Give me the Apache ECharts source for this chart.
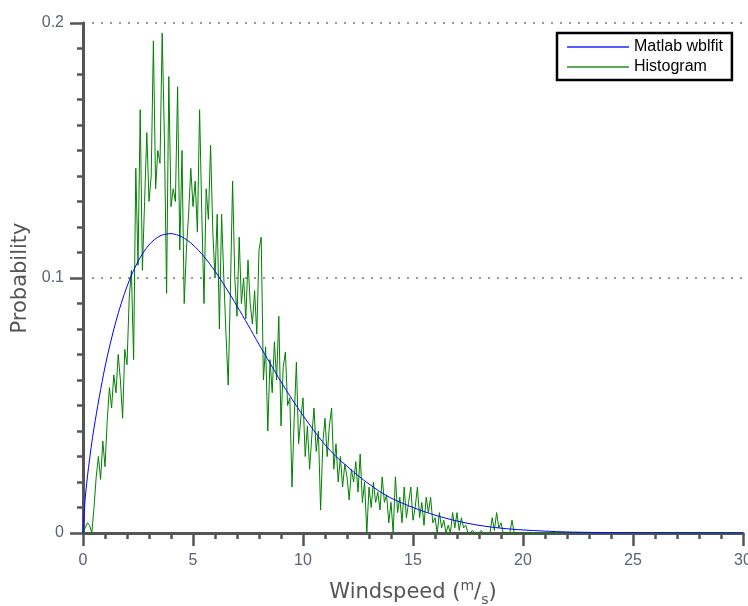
<!DOCTYPE html>
<html>
<head>
<meta charset="utf-8">
<script src="https://cdn.jsdelivr.net/npm/echarts@6/dist/echarts.min.js"></script>
<style>html,body{margin:0;padding:0;background:#fff;overflow:hidden;}#c{width:748px;height:606px;}</style>
</head>
<body>
<div id="c"></div>
<script>
// Weibull fit curve
var fitX = [0,0.1,0.25,0.5,1,1.5,2,2.5,3,3.5,4,4.5,5,5.5,6,6.5,7,7.5,8,8.5,9,9.5,10,10.5,11,11.5,12,12.5,13,13.5,14,15,16,17,18,19,20,22,25,30];
var fitY = [0,0.0135,0.0256,0.0412,0.0651,0.0831,0.0967,0.1065,0.1130,0.1165,0.1174,0.1161,0.1130,0.1084,0.1027,0.0961,0.0890,0.0816,0.0740,0.0666,0.0593,0.0525,0.0461,0.0401,0.0346,0.0300,0.0262,0.0225,0.0192,0.0162,0.0137,0.0100,0.0070,0.0047,0.0030,0.0019,0.0012,0.0004,0.0001,0];

// Histogram, bins of 0.1 m/s from 0 to 20, then zero up to 30
var histStep = 0.1;
var histEnd = 30;
var histY = [
0,0.002,0.004,0.003,0,0.010,0.022,0.030,0.021,0.036,
0.026,0.044,0.057,0.049,0.062,0.055,0.070,0.060,0.045,0.072,
0.066,0.092,0.103,0.068,0.143,0.105,0.166,0.103,0.130,0.157,
0.130,0.140,0.193,0.135,0.150,0.145,0.196,0.155,0.094,0.179,
0.128,0.135,0.130,0.175,0.111,0.150,0.090,0.111,0.125,0.143,
0.128,0.138,0.118,0.166,0.125,0.090,0.135,0.123,0.152,0.118,
0.100,0.125,0.080,0.125,0.100,0.078,0.058,0.095,0.138,0.100,
0.085,0.116,0.090,0.100,0.084,0.107,0.090,0.082,0.095,0.078,
0.111,0.116,0.060,0.073,0.040,0.068,0.055,0.075,0.060,0.085,
0.042,0.065,0.071,0.050,0.053,0.018,0.045,0.067,0.035,0.045,
0.053,0.030,0.042,0.025,0.038,0.049,0.032,0.040,0.009,0.035,
0.045,0.030,0.042,0.049,0.025,0.035,0.020,0.030,0.018,0.027,
0.022,0.013,0.025,0.020,0.028,0.016,0.031,0.012,0.020,0,
0.018,0.010,0.020,0.012,0.016,0.009,0.022,0.012,0.015,0.004,
0.012,0,0.022,0.008,0.014,0.004,0.018,0.006,0.012,0.018,
0.005,0.010,0.018,0.006,0.012,0.003,0.014,0.008,0.014,0.004,
0.006,0,0.008,0.002,0.005,0,0.003,0,0.008,0.002,
0.008,0.001,0.006,0.002,0.003,0,0,0.001,0,0,
0,0.001,0,0,0,0,0.006,0.001,0.008,0.002,
0.004,0,0,0,0,0.005,0,0,0,0,
0
];

var yTicks = ['0', '0.1', '0.2'];

var fitData = fitX.map(function (x, i) { return [x, fitY[i]]; });
var histData = histY.map(function (y, i) { return [+(i * histStep).toFixed(2), y]; });
histData.push([histEnd, 0]);

var chart = echarts.init(document.getElementById('c'), null, {renderer: 'canvas', width: 748, height: 606});
var axisColor = '#555';
chart.setOption({
  animation: false,
  backgroundColor: '#fff',
  grid: {left: 83, top: 23, width: 660, height: 510, containLabel: false, outerBoundsMode: 'none'},
  legend: {
    left: 557, top: 33,
    orient: 'vertical',
    backgroundColor: '#fff',
    borderColor: '#000', borderWidth: 2.5, borderRadius: 0,
    padding: [6, 9, 5, 10],
    itemGap: 4,
    itemWidth: 62, itemHeight: 2,
    textStyle: {fontFamily: 'Liberation Sans', fontSize: 16, color: '#000'},
    data: [
      {name: 'Matlab wblfit', icon: 'rect', itemStyle: {color: '#5a5aff'}},
      {name: 'Histogram', icon: 'rect', itemStyle: {color: '#5aaa5a'}}
    ]
  },
  xAxis: {
    type: 'value', min: 0, max: 30, interval: 5,
    name: '{a|Windspeed (}{sup|m}{a|/}{sub|s}{a|)}',
    nameLocation: 'middle', nameGap: 46,
    nameTextStyle: {
      rich: {
        a: {fontFamily: 'DejaVu Sans', fontSize: 21, color: axisColor, lineHeight: 28},
        sup: {fontFamily: 'DejaVu Sans', fontSize: 14, color: axisColor, verticalAlign: 'top', lineHeight: 28, padding: [0, 0, 8, 0]},
        sub: {fontFamily: 'DejaVu Sans', fontSize: 14, color: axisColor, verticalAlign: 'bottom', lineHeight: 28, padding: [10, 0, 0, 0]}
      }
    },
    axisLine: {show: true, lineStyle: {color: axisColor, width: 3}},
    axisTick: {show: true, inside: false, length: 13, lineStyle: {color: axisColor, width: 2.5}},
    minorTick: {show: true, splitNumber: 5, length: 6, lineStyle: {color: axisColor, width: 2.5}},
    axisLabel: {margin: 20, fontFamily: 'Liberation Sans', fontSize: 16, color: '#5b6272'},
    splitLine: {show: false}
  },
  yAxis: {
    type: 'value', min: 0, max: 0.2, interval: 0.1,
    name: 'Probability',
    nameLocation: 'middle', nameGap: 43, nameRotate: 90,
    nameTextStyle: {fontFamily: 'DejaVu Sans', fontSize: 21, color: axisColor},
    axisLine: {show: true, lineStyle: {color: axisColor, width: 3}},
    axisTick: {show: true, inside: false, length: 13, lineStyle: {color: axisColor, width: 2.5}},
    minorTick: {show: true, splitNumber: 10, length: 6, lineStyle: {color: axisColor, width: 2.5}},
    axisLabel: {
      margin: 19, fontFamily: 'Liberation Sans', fontSize: 16, color: '#5b6272',
      formatter: function (v) { return yTicks[Math.round(v / 0.1)]; }
    },
    splitLine: {show: true, lineStyle: {color: '#777', width: 1.5, type: [2, 7]}}
  },
  series: [
    {
      name: 'Histogram', type: 'line', data: histData,
      showSymbol: false, symbol: 'none',
      lineStyle: {color: '#008000', width: 1},
      itemStyle: {color: '#008000'},
      z: 2
    },
    {
      name: 'Matlab wblfit', type: 'line', data: fitData,
      showSymbol: false, symbol: 'none', smooth: 0.3,
      lineStyle: {color: '#0000ff', width: 1},
      itemStyle: {color: '#0000ff'},
      z: 3
    }
  ]
});
</script>
</body>
</html>
